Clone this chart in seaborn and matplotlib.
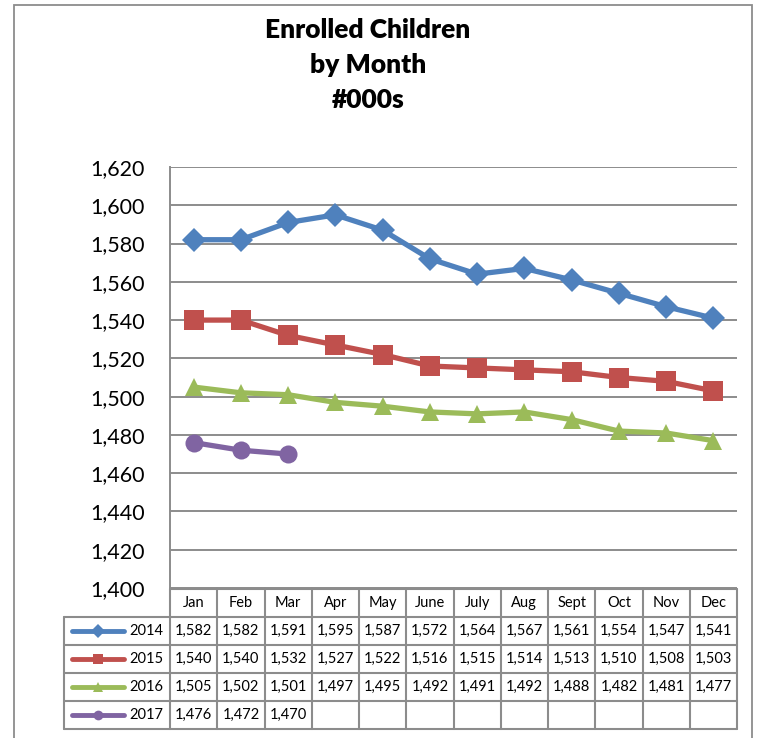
import pandas as pd
import seaborn as sns
import matplotlib.pyplot as plt
from matplotlib.lines import Line2D
from matplotlib.patches import Rectangle

months = ['Jan', 'Feb', 'Mar', 'Apr', 'May', 'June', 'July', 'Aug', 'Sept', 'Oct', 'Nov', 'Dec']
years = ['2014', '2015', '2016', '2017']
v2014 = [1582, 1582, 1591, 1595, 1587, 1572, 1564, 1567, 1561, 1554, 1547, 1541]
v2015 = [1540, 1540, 1532, 1527, 1522, 1516, 1515, 1514, 1513, 1510, 1508, 1503]
v2016 = [1505, 1502, 1501, 1497, 1495, 1492, 1491, 1492, 1488, 1482, 1481, 1477]
v2017 = [1476, 1472, 1470]
colors = ['#4F81BD', '#C0504D', '#9BBB59', '#8064A2']
marks = ['D', 's', '^', 'o']
msizes = [12, 14, 13, 13]

series = [v2014, v2015, v2016, v2017]
rows = []
for yr, vals in zip(years, series):
    for m, v in zip(months, vals):
        rows.append({'month': m, 'year': yr, 'value': v})
df = pd.DataFrame(rows)

sns.set_style('white')
plt.rcParams['font.family'] = ['Lato', 'DejaVu Sans']

W, H = 765, 738
fig = plt.figure(figsize=(W / 100, H / 100), dpi=100)

# outer chart border
fig.patches.append(Rectangle((14 / W, -0.05), (752 - 14) / W, 1 - 5 / H + 0.05,
                             transform=fig.transFigure, fill=False,
                             edgecolor='#8c8c8c', lw=1.3))

L, R, T, B = 170, 737, 167, 588
ax = fig.add_axes([L / W, 1 - B / H, (R - L) / W, (B - T) / H])

for yr, c, mk, ms in zip(years, colors, marks, msizes):
    sub = df[df['year'] == yr]
    sns.lineplot(data=sub, x='month', y='value', color=c, marker=mk,
                 markersize=ms, markeredgewidth=0, lw=3.8, sort=False,
                 legend=False, ax=ax, zorder=3)

ax.set_xlim(-0.5, 11.5)
ax.set_ylim(1400, 1620)
ax.set_yticks(range(1400, 1621, 20))
ax.set_yticklabels([f'{t:,}' for t in range(1400, 1621, 20)], fontsize=15.5, color='black')
ax.set_xticks([])
ax.set_xlabel('')
ax.set_ylabel('')
ax.tick_params(axis='y', length=0, pad=18)
ax.yaxis.grid(True, color='#8c8c8c', lw=1.4)
ax.set_axisbelow(True)
for s in ['top', 'right', 'bottom']:
    ax.spines[s].set_visible(False)
ax.spines['left'].set_color('#8c8c8c')
ax.spines['left'].set_linewidth(1.4)

fig.text(368 / W, 1 - 65 / H, 'Enrolled Children\nby Month\n#000s', ha='center',
         va='center', fontsize=19, fontweight='heavy', color='black', linespacing=1.55)

# data table below the plot
def fy(py):
    return 1 - py / H

def fx(px):
    return px / W

grid_c = '#8c8c8c'
row_y = [589, 617, 645, 673, 701, 729]
col_x = [L + i * (R - L) / 12 for i in range(13)]
leg_l = 64

def hline(x0, x1, y):
    fig.lines.append(Line2D([fx(x0), fx(x1)], [fy(y), fy(y)], transform=fig.transFigure,
                            color=grid_c, lw=1.5))

def vline(x, y0, y1):
    fig.lines.append(Line2D([fx(x), fx(x)], [fy(y0), fy(y1)], transform=fig.transFigure,
                            color=grid_c, lw=1.5))

hline(L, R, row_y[0])
for y in row_y[1:]:
    hline(leg_l, R, y)
for x in col_x:
    vline(x, row_y[0], row_y[-1])
vline(leg_l, row_y[1], row_y[-1])

for i, m in enumerate(months):
    cx = (col_x[i] + col_x[i + 1]) / 2
    fig.text(fx(cx), fy((row_y[0] + row_y[1]) / 2), m, ha='center', va='center',
             fontsize=10.5, color='black')

for r, (yr, vals, c, mk) in enumerate(zip(years, series, colors, marks)):
    cy = (row_y[r + 1] + row_y[r + 2]) / 2
    fig.lines.append(Line2D([fx(72), fx(124)], [fy(cy), fy(cy)], transform=fig.transFigure,
                            color=c, lw=3.5, solid_capstyle='round'))
    fig.lines.append(Line2D([fx(98)], [fy(cy)], transform=fig.transFigure, color=c,
                            marker=mk, markersize=7, markeredgewidth=0))
    fig.text(fx(129), fy(cy), yr, ha='left', va='center', fontsize=10.5, color='black')
    for i, v in enumerate(vals):
        cx = (col_x[i] + col_x[i + 1]) / 2
        fig.text(fx(cx), fy(cy), f'{v:,}', ha='center', va='center', fontsize=10.5,
                 color='black')

fig.savefig('out.png', dpi=100)
